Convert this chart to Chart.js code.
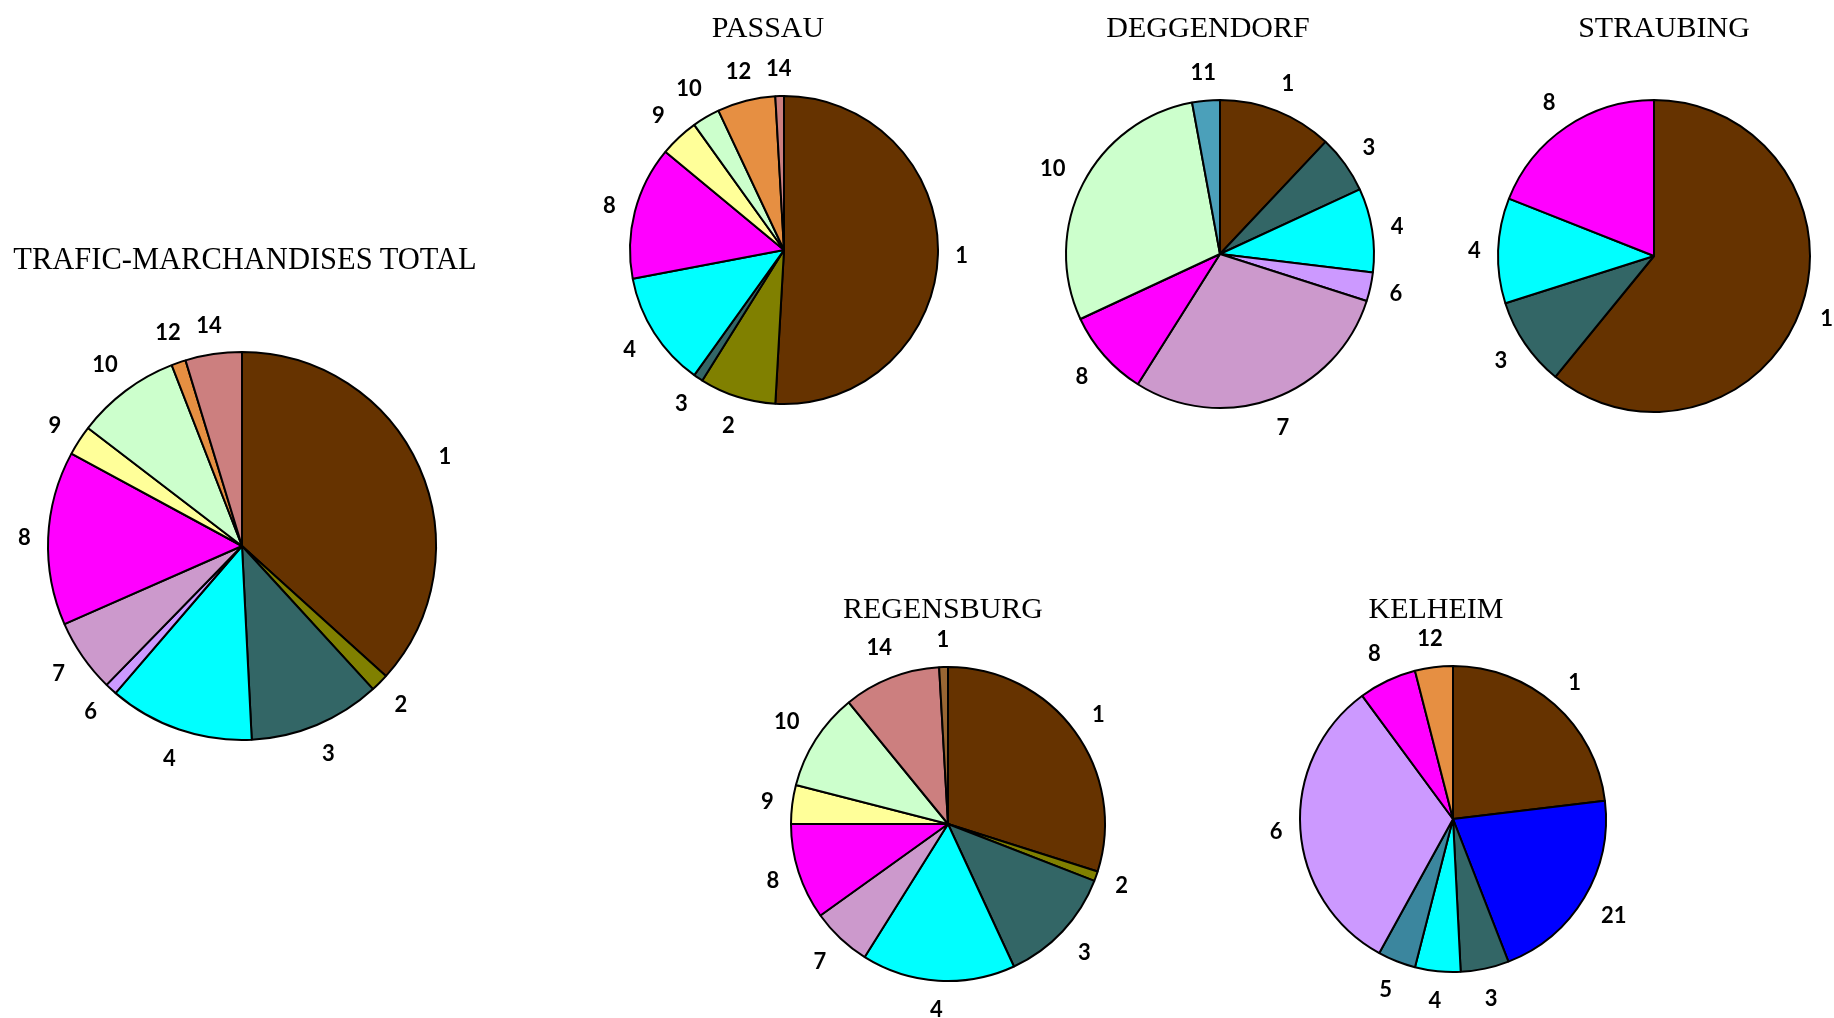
<!DOCTYPE html>
<html>
<head>
<meta charset="utf-8">
<script src="https://cdn.jsdelivr.net/npm/chart.js@4.4.1/dist/chart.umd.min.js"></script>
<style>
    html, body {
        margin: 0;
        padding: 0;
        background: #ffffff;
        overflow: hidden;
    }
    body {
        width: 1834px;
        height: 1018px;
        position: relative;
    }
    .pie {
        position: absolute;
    }
    .title {
        position: absolute;
        transform: translateX(-50%);
        font-family: 'Liberation Serif', 'Times New Roman', serif;
        font-size: 30px;
        line-height: 30px;
        color: #000;
        white-space: nowrap;
    }
</style>
</head>
<body>

<script>
// Data (shares in %)
const totalLabels = ['1', '2', '3', '4', '6', '7', '8', '9', '10', '12', '14'];
const totalValues = [36.7, 1.5, 11.0, 12.1, 1.0, 6.1, 14.5, 2.5, 8.7, 1.2, 4.7];

const passauLabels = ['1', '2', '3', '4', '8', '9', '10', '12', '14'];
const passauValues = [50.9, 8.0, 1.0, 12.1, 14.0, 4.1, 2.9, 6.1, 0.9];

const deggendorfLabels = ['1', '3', '4', '6', '7', '8', '10', '11'];
const deggendorfValues = [12.0, 6.1, 8.8, 3.0, 29.0, 9.1, 29.0, 2.9];

const straubingLabels = ['1', '3', '4', '8'];
const straubingValues = [60.9, 9.2, 10.9, 19.0];

const regensburgLabels = ['1', '2', '3', '4', '7', '8', '9', '10', '14', '1'];
const regensburgValues = [29.9, 1.0, 12.2, 15.8, 6.2, 9.9, 4.0, 10.1, 10.0, 0.9];

const kelheimLabels = ['1', '21', '3', '4', '5', '6', '8', '12'];
const kelheimValues = [23.1, 21.0, 5.1, 4.8, 4.0, 31.9, 6.1, 4.0];

// Colour per category
const palette = {
    '1': '#663300', '2': '#808000', '3': '#336666', '4': '#00ffff',
    '5': '#3b869e', '6': '#cc99ff', '7': '#cc99cc', '8': '#ff00ff',
    '9': '#ffff99', '10': '#ccffcc', '11': '#4ba0ba', '12': '#e68f42',
    '14': '#cc7f7f', '21': '#0000ff'
};

function colorsFor(labels) {
    return labels.map(l => palette[l]);
}

const regensburgColors = colorsFor(regensburgLabels);
regensburgColors[regensburgColors.length - 1] = '#996633';

// Pie placement on the page
const pies = [
    { title: 'TRAFIC-MARCHANDISES TOTAL', labels: totalLabels, values: totalValues, colors: colorsFor(totalLabels),
      cx: 242, cy: 546, r: 194, tx: 245, ty: 244, fs: 30.5 },
    { title: 'PASSAU', labels: passauLabels, values: passauValues, colors: colorsFor(passauLabels),
      cx: 784, cy: 250, r: 154, tx: 768, ty: 12 },
    { title: 'DEGGENDORF', labels: deggendorfLabels, values: deggendorfValues, colors: colorsFor(deggendorfLabels),
      cx: 1220, cy: 254, r: 154, tx: 1208, ty: 12 },
    { title: 'STRAUBING', labels: straubingLabels, values: straubingValues, colors: colorsFor(straubingLabels),
      cx: 1654, cy: 256, r: 156, tx: 1664, ty: 12 },
    { title: 'REGENSBURG', labels: regensburgLabels, values: regensburgValues, colors: regensburgColors,
      cx: 948, cy: 824, r: 157, tx: 943, ty: 593 },
    { title: 'KELHEIM', labels: kelheimLabels, values: kelheimValues, colors: colorsFor(kelheimLabels),
      cx: 1453, cy: 819, r: 153, tx: 1436, ty: 593 }
];

// Category numbers outside each slice
const outsideLabels = {
    id: 'outsideLabels',
    afterDatasetsDraw(chart) {
        const ctx = chart.ctx;
        const meta = chart.getDatasetMeta(0);
        ctx.save();
        ctx.font = 'bold 22px Lato, sans-serif';
        ctx.fillStyle = '#000';
        ctx.textAlign = 'center';
        ctx.textBaseline = 'middle';
        meta.data.forEach((arc, i) => {
            const p = arc.getProps(['x', 'y', 'startAngle', 'endAngle', 'outerRadius'], true);
            const mid = (p.startAngle + p.endAngle) / 2;
            const ux = Math.cos(mid);
            const uy = Math.sin(mid);
            const text = chart.data.labels[i];
            const halfW = ctx.measureText(text).width / 2 + 2;
            const halfH = 13;
            const d = p.outerRadius + 15 + Math.abs(ux) * halfW + Math.abs(uy) * halfH;
            ctx.fillText(text, p.x + ux * d, p.y + uy * d + 1);
        });
        ctx.restore();
    }
};

function makePie(p) {
    const size = 2 * (p.r + 90);
    const canvas = document.createElement('canvas');
    canvas.className = 'pie';
    canvas.width = size;
    canvas.height = size;
    canvas.style.width = size + 'px';
    canvas.style.height = size + 'px';
    canvas.style.left = (p.cx - size / 2) + 'px';
    canvas.style.top = (p.cy - size / 2) + 'px';
    document.body.appendChild(canvas);

    const title = document.createElement('div');
    title.className = 'title';
    title.textContent = p.title;
    title.style.left = p.tx + 'px';
    title.style.top = p.ty + 'px';
    if (p.fs) title.style.fontSize = p.fs + 'px';
    document.body.appendChild(title);

    new Chart(canvas.getContext('2d'), {
        type: 'pie',
        data: {
            labels: p.labels,
            datasets: [{
                data: p.values,
                backgroundColor: p.colors,
                borderColor: '#000000',
                borderWidth: 2,
                hoverOffset: 0,
                offset: 0
            }]
        },
        options: {
            responsive: false,
            animation: false,
            radius: p.r,
            layout: { padding: 0 },
            plugins: {
                legend: { display: false },
                tooltip: { enabled: false },
                title: { display: false }
            }
        },
        plugins: [outsideLabels]
    });
}

document.addEventListener('DOMContentLoaded', function() {
    pies.forEach(makePie);
});
</script>
</body>
</html>
